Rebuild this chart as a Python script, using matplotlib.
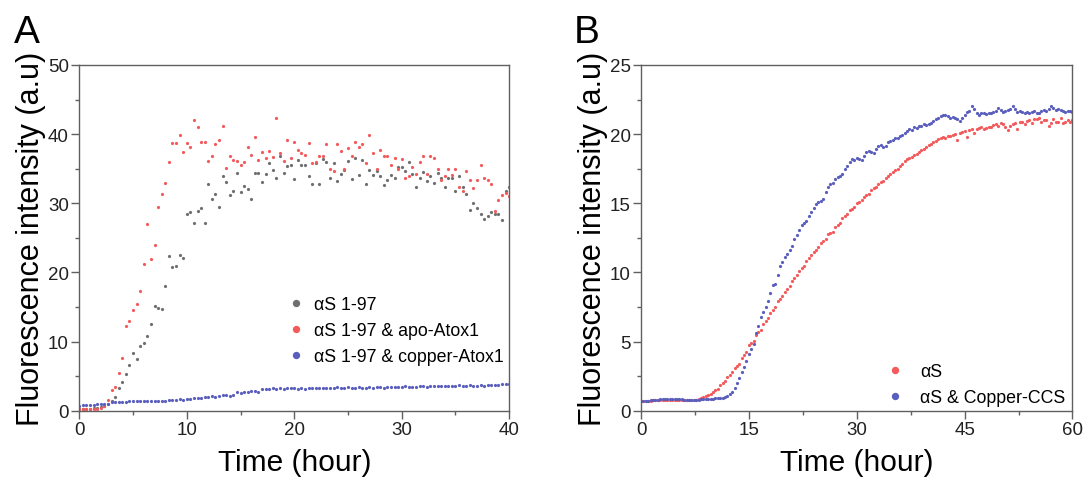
import numpy as np
import matplotlib
matplotlib.use("Agg")
import matplotlib.pyplot as plt

plt.rcParams['font.family'] = ['Liberation Sans', 'DejaVu Sans']

# ---------------------------------------------------------------
# Data, one reading every 20 minutes
# ---------------------------------------------------------------

# Panel A: aS 1-97 alone, with apo-Atox1, with copper-Atox1 (0-40 h)
gray_a = [0.3, 0.3, 0.3, 0.3, 0.4, 0.4, 0.5, 0.7, 1.0,
          1.35, 1.97, 3.27, 4.09, 5.33, 6.63, 8.36, 7.5, 9.42, 9.85, 10.76,
          12.6, 15.1, 14.8, 14.65, 18.1, 22.4, 20.75, 21.0, 22.5, 22.1,
          28.4, 28.7, 27.1, 28.9, 29.3, 27.2, 32.8, 30.6, 31.4, 29.5,
          34.0, 33.1, 31.2, 31.8, 34.4, 31.7, 32.5, 32.0, 30.6, 34.4,
          34.4, 33.1, 34.2, 35.8, 34.8, 33.6, 36.9, 34.4, 35.4,
          35.5, 33.5, 36.3, 35.6, 35.6, 34.0, 32.8, 35.8, 32.8, 36.4,
          35.9, 33.7, 35.8, 33.2, 34.2, 34.8, 36.1, 33.5, 36.6, 34.1,
          36.3, 32.8, 34.8, 34.1, 34.7, 33.9, 32.6, 33.4,
          34.1, 33.7, 35.3, 35.3, 34.7, 35.9, 34.2, 32.4, 33.7, 34.5,
          33.2, 34.0, 32.9, 34.4, 33.7, 32.3, 33.6, 33.6, 31.8, 34.0,
          32.4, 31.4, 29.0, 30.0, 29.3, 28.5, 27.7, 28.1, 28.8, 28.4,
          28.5, 27.6, 31.8, 32.3]

red_a = [0.2, 0.2, 0.2, 0.2, 0.2, 0.3, 0.4, 0.7,
         1.6, 3.0, 3.5, 5.4, 7.7, 12.3, 13.0, 14.5, 15.5, 17.3,
         21.2, 27.0, 22.0, 24.0, 29.5, 31.3, 32.9, 36.0, 38.7, 38.7,
         39.9, 37.4, 38.7, 38.1, 42.0, 41.0, 38.9, 38.9, 36.1, 36.8,
         38.5, 39.2, 41.2,
         35.1, 36.8, 36.3, 36.1, 35.6, 35.9, 38.1, 37.0, 39.6, 36.2,
         37.4, 36.5, 37.6, 36.7, 42.3, 37.3, 36.1, 39.1,
         36.5, 38.9, 37.7, 37.2, 37.0, 38.7, 35.8, 35.9, 36.8, 36.8,
         38.5, 35.0, 34.7, 38.5, 37.6, 34.9, 38.0, 36.8, 38.8, 38.2,
         38.5, 35.8, 39.9, 37.2, 35.0, 37.7, 36.9, 36.9,
         35.5, 36.5, 34.9, 36.4, 33.6, 34.0, 35.3, 34.2, 36.0, 36.9,
         34.2, 36.9, 36.5, 35.0, 33.3, 33.9, 34.9, 34.1, 35.0, 32.4,
         31.8, 34.7, 33.3, 32.2, 33.3, 35.5, 33.6, 33.3, 32.8, 28.9,
         30.5, 31.2, 31.5, 31.1]

blue_a = [0.75, 0.78, 0.8, 0.85, 0.9, 0.92, 0.95, 1.0, 1.05,
          1.2, 1.3, 1.3, 1.32, 1.33, 1.35,
          1.35, 1.37, 1.38, 1.38, 1.4, 1.4, 1.42, 1.43, 1.45, 1.47, 1.5, 1.52,
          1.55, 1.7, 1.6, 1.75, 1.65, 1.85, 1.9, 1.8, 2.0,
          2.05, 2.1, 2.0, 2.2, 2.25, 2.3, 2.2, 2.35,
          2.7, 2.6, 2.75, 2.7, 2.8, 2.85, 2.75,
          3.2, 3.1, 3.15, 3.25, 3.2, 3.3, 3.15, 3.3, 3.25, 3.3, 3.2, 3.35,
          3.2, 3.3, 3.35,
          3.3, 3.25, 3.35, 3.3, 3.3, 3.35, 3.45, 3.3, 3.35, 3.4, 3.3, 3.35,
          3.4, 3.35, 3.3, 3.4, 3.35, 3.45, 3.4, 3.35, 3.45, 3.5, 3.45, 3.5, 3.5,
          3.55, 3.45, 3.5, 3.5, 3.6, 3.55, 3.5, 3.55, 3.65, 3.55, 3.6, 3.6,
          3.55, 3.65, 3.6, 3.7, 3.6, 3.65, 3.7, 3.65, 3.6, 3.7, 3.65, 3.75,
          3.7, 3.75, 3.7, 3.8, 3.8, 3.85]

# Panel B: aS alone and aS with copper-CCS (0-60 h)
red_b = [0.72, 0.72, 0.73, 0.74, 0.74, 0.75, 0.76, 0.76, 0.77,
         0.78, 0.78, 0.78, 0.78, 0.78, 0.78, 0.77, 0.77, 0.76,
         0.75, 0.75, 0.75, 0.76, 0.77, 0.8, 0.88, 0.93, 0.99,
         1.07, 1.15, 1.22, 1.36, 1.48, 1.58, 1.85, 1.98, 2.12,
         2.45, 2.62, 2.78, 3.1, 3.25, 3.4, 3.85, 4.05, 4.25,
         4.75, 4.9, 5.05, 5.5, 5.7, 5.85, 6.25, 6.5, 6.7,
         7.05, 7.3, 7.5, 7.9, 8.05, 8.3, 8.6, 8.8, 9.0,
         9.35, 9.6, 9.8, 10.1, 10.3, 10.5, 10.85, 11.05, 11.25,
         11.5, 11.65, 11.85, 12.15, 12.3, 12.45, 12.75, 12.85, 12.95,
         13.3, 13.45, 13.6, 13.9, 14.05, 14.2, 14.5, 14.6, 14.75,
         15.0, 15.1, 15.25, 15.45, 15.6, 15.7, 15.95, 16.1, 16.2,
         16.4, 16.55, 16.6, 16.8, 17.0, 17.1, 17.25, 17.4, 17.5,
         17.7, 17.85, 18.05, 18.2, 18.3, 18.35, 18.5, 18.55, 18.7,
         18.85, 18.95, 19.05, 19.2, 19.3, 19.4, 19.5, 19.65, 19.75,
         19.8, 19.7, 19.9, 19.9, 19.95, 20.0, 19.6, 20.05, 20.15,
         20.2, 19.8, 20.3, 20.35, 20.1, 20.4, 20.45, 20.5, 20.4,
         20.45, 20.55, 20.5, 20.65, 20.7, 20.6, 20.8, 20.7, 20.55,
         20.3, 20.6, 20.75, 20.8, 20.35, 20.85, 20.9, 20.7, 20.95,
         21.05, 20.8, 21.1, 21.1, 21.15, 20.9, 21.05, 21.0, 20.6,
         20.8, 21.1, 20.9, 20.9, 21.2, 20.8, 20.9, 21.0, 20.85,
         21.0]

blue_b = [0.7, 0.71, 0.72, 0.74, 0.76, 0.78, 0.8, 0.81, 0.82,
          0.83, 0.84, 0.84, 0.85, 0.85, 0.85, 0.84, 0.83, 0.82,
          0.8, 0.79, 0.79, 0.78, 0.78, 0.79, 0.8, 0.82, 0.83,
          0.85, 0.86, 0.86, 0.88, 0.89, 0.9, 0.92, 0.95, 0.98,
          1.05, 1.2, 1.35, 1.62, 1.98, 2.34, 2.8, 3.2, 3.6,
          4.1, 4.5, 4.85, 5.6, 6.1, 6.8, 7.15, 7.5, 7.9,
          8.5, 9.1, 9.2, 9.8, 10.5, 10.75, 11.1, 11.3, 11.6,
          11.9, 12.4, 12.7, 13.1, 13.4, 13.55, 13.7, 14.1, 14.4,
          14.65, 14.95, 15.1, 15.2, 15.3, 15.8, 16.2, 16.4, 16.5,
          16.75, 16.9, 16.95, 17.1, 17.5, 17.7, 17.95, 18.2, 18.1,
          18.3, 18.2, 18.1, 18.4, 18.7, 18.75, 18.7, 18.6, 18.9,
          19.15, 19.2, 19.1, 19.15, 19.4, 19.5, 19.6, 19.75, 19.7,
          19.87, 19.95, 20.1, 20.2, 20.35, 20.3, 20.5, 20.45, 20.6,
          20.6, 20.7, 20.65, 20.75, 20.8, 20.95, 21.1, 21.2, 21.3,
          21.35, 21.4, 21.3, 21.2, 21.25, 21.2, 21.1, 20.95, 21.2,
          21.4, 21.6, 21.7, 22.0, 21.8, 21.5, 21.4, 21.5, 21.5,
          21.45, 21.5, 21.55, 21.6, 21.7, 21.9, 21.75, 21.6, 21.65,
          21.75, 21.85, 22.0, 21.8, 21.6, 21.65, 21.6, 21.55, 21.6,
          21.5, 21.6, 21.65, 21.5, 21.55, 21.7, 21.75, 21.65, 21.85,
          22.0, 21.9, 21.75, 21.8, 21.75, 21.7, 21.6, 21.7, 21.65,
          21.6]

labels_a = ["\u03b1S 1-97", "\u03b1S 1-97 & apo-Atox1", "\u03b1S 1-97 & copper-Atox1"]
labels_b = ["\u03b1S", "\u03b1S & Copper-CCS"]

step_h = 20 / 60
t_a = np.arange(len(gray_a)) * step_h
t_b = np.arange(len(red_b)) * step_h

GRAY = '#6f6f6f'
RED = '#f25a5c'
BLUE = '#5a5fbe'
SPINE = '#606060'

# ---------------------------------------------------------------
# Figure
# ---------------------------------------------------------------

fig = plt.figure(figsize=(10.83, 4.85), dpi=100)
ax_a = fig.add_axes([0.0732, 0.151, 0.397, 0.713])
ax_b = fig.add_axes([0.5919, 0.151, 0.3984, 0.713])

dot = dict(linestyle='none', marker='o', markersize=2.3, markeredgewidth=0)

ax_a.plot(t_a, gray_a, color=GRAY, label=labels_a[0], **dot)
ax_a.plot(t_a, red_a, color=RED, label=labels_a[1], **dot)
ax_a.plot(t_a, blue_a, color=BLUE, label=labels_a[2], **dot)

ax_b.plot(t_b, red_b, color=RED, label=labels_b[0], **dot)
ax_b.plot(t_b, blue_b, color=BLUE, label=labels_b[1], **dot)

ax_a.set_xlim(0, 40)
ax_a.set_ylim(0, 50)
ax_a.set_xticks([0, 10, 20, 30, 40])
ax_a.set_xticks([5, 15, 25, 35], minor=True)
ax_a.set_yticks([0, 10, 20, 30, 40, 50])
ax_a.set_yticks([5, 15, 25, 35, 45], minor=True)

ax_b.set_xlim(0, 60)
ax_b.set_ylim(0, 25)
ax_b.set_xticks([0, 15, 30, 45, 60])
ax_b.set_xticks([7.5, 22.5, 37.5, 52.5], minor=True)
ax_b.set_yticks([0, 5, 10, 15, 20, 25])
ax_b.set_yticks([2.5, 7.5, 12.5, 17.5, 22.5], minor=True)

for ax in (ax_a, ax_b):
    for s in ax.spines.values():
        s.set_color(SPINE)
        s.set_linewidth(1.0)
    ax.tick_params(which='major', direction='out', length=5.5, width=1.0,
                   color=SPINE, labelsize=13.5, labelcolor='#222222', pad=2)
    ax.tick_params(which='minor', direction='out', length=3, width=1.0, color=SPINE)
    ax.set_xlabel("Time (hour)", fontsize=21.5, labelpad=7)
    ax.set_ylabel("Fluorescence intensity (a.u)", fontsize=22, labelpad=1)

ax_a.legend(loc='upper left', bbox_to_anchor=(0.484, 0.332), frameon=False,
            fontsize=12.8, markerscale=2.3, handlelength=1.0, handletextpad=0.5,
            labelspacing=0.5, borderpad=0, borderaxespad=0)
ax_b.legend(loc='upper left', bbox_to_anchor=(0.569, 0.138), frameon=False,
            fontsize=12.8, markerscale=2.3, handlelength=1.0, handletextpad=0.9,
            labelspacing=0.5, borderpad=0, borderaxespad=0)

fig.text(0.013, 0.97, "A", fontsize=28, va='top', ha='left')
fig.text(0.530, 0.97, "B", fontsize=28, va='top', ha='left')

fig.savefig("out.png", dpi=100)
